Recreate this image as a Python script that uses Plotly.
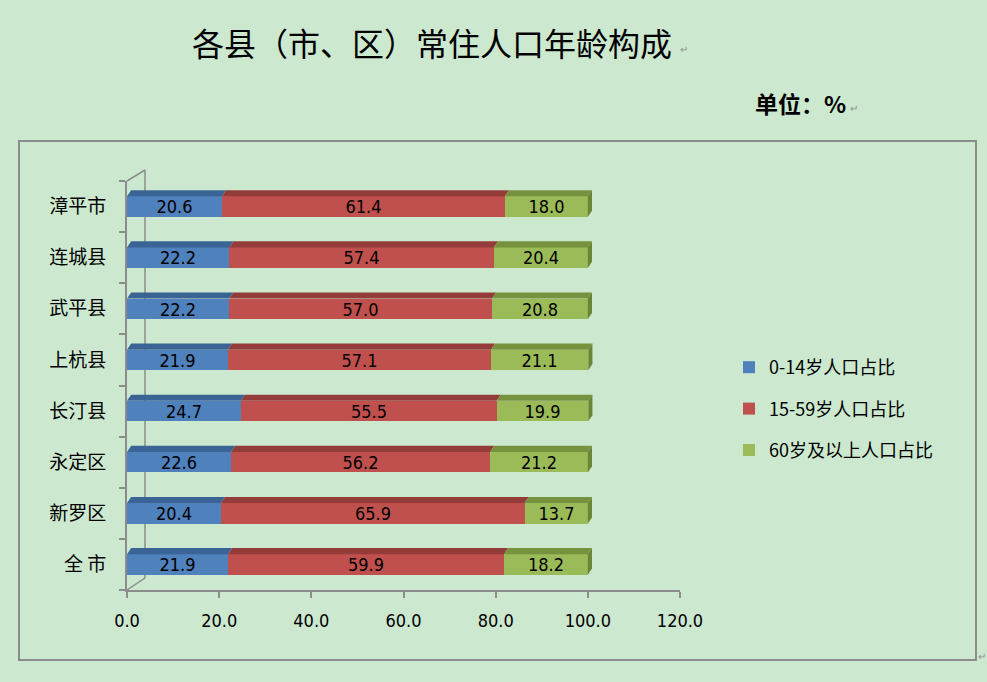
import plotly.graph_objects as go

# data (bottom -> top on the chart)
regions = ["全 市", "新罗区", "永定区", "长汀县", "上杭县", "武平县", "连城县", "漳平市"]
age_0_14 = [21.9, 20.4, 22.6, 24.7, 21.9, 22.2, 22.2, 20.6]
age_15_59 = [59.9, 65.9, 56.2, 55.5, 57.1, 57.0, 57.4, 61.4]
age_60_up = [18.2, 13.7, 21.2, 19.9, 21.1, 20.8, 20.4, 18.0]
series_names = ["0-14岁人口占比", "15-59岁人口占比", "60岁及以上人口占比"]
x_ticks = [0, 20, 40, 60, 80, 100, 120]

W, H = 987, 682
BG = "#CCE8CF"
GRID = "#8C8C8C"
front = ["#4F81BD", "#C0504D", "#9BBB59"]
top = ["#3A6496", "#943C3A", "#76923F"]
side_green = "#6B8536"
CJK = "Noto Sans CJK SC"
NUM = "Liberation Sans Narrow, DejaVu Sans Condensed, sans-serif"

# plot area in pixels
x0_px, x1_px = 127, 680
y_top_px, y_bot_px = 181, 590
bar_w = 0.4
dx, dy = 0.9, 0.12  # depth of the 3d faces, in axis units

def px(x):
    return x / W

def py(y):
    return 1 - y / H

pos = list(range(len(regions)))
fig = go.Figure()
for name, vals, col in zip(series_names, [age_0_14, age_15_59, age_60_up], front):
    fig.add_trace(go.Bar(
        y=pos, x=vals, orientation="h", name=name, legendgroup=name,
        marker=dict(color=col, line=dict(width=0)), width=bar_w,
        texttemplate="%{x:.1f}", textposition="inside", insidetextanchor="middle",
        constraintext="none",
        textfont=dict(family=NUM, size=18, color="black"),
        hoverinfo="skip",
    ))

# 3d top faces and right side of each stacked bar
shapes = []
for i in pos:
    starts = [0, age_0_14[i], age_0_14[i] + age_15_59[i]]
    ends = [age_0_14[i], age_0_14[i] + age_15_59[i], age_0_14[i] + age_15_59[i] + age_60_up[i]]
    yt = i + bar_w / 2
    for s, e, c in zip(starts, ends, top):
        shapes.append(dict(
            type="path", xref="x", yref="y", fillcolor=c, line=dict(width=0),
            path=f"M {s},{yt} L {s + dx},{yt + dy} L {e + dx},{yt + dy} L {e},{yt} Z"))
    e = ends[-1]
    yb = i - bar_w / 2
    shapes.append(dict(
        type="path", xref="x", yref="y", fillcolor=side_green, line=dict(width=0),
        path=f"M {e},{yb} L {e + dx},{yb + dy} L {e + dx},{yt + dy} L {e},{yt} Z"))

# outer frame and the left wall of the 3d chart
shapes.append(dict(type="rect", xref="paper", yref="paper",
                   x0=px(19), x1=px(976), y0=py(660), y1=py(141),
                   line=dict(color=GRID, width=2), layer="below"))
wall = [((x0_px, y_top_px), (x0_px + 18, y_top_px - 11)),
        ((x0_px + 18, y_top_px - 11), (x0_px + 18, y_bot_px - 12)),
        ((x0_px, y_bot_px), (x0_px + 18, y_bot_px - 12))]
for (a, b), (c, d) in wall:
    shapes.append(dict(type="line", xref="paper", yref="paper",
                       x0=px(a), y0=py(b), x1=px(c), y1=py(d),
                       line=dict(color=GRID, width=1.5), layer="below"))

annotations = [
    dict(text="各县（市、区）常住人口年龄构成", x=px(432), y=py(42),
         font=dict(family=CJK, size=32, color="black")),
    dict(text="<b>单位：%</b>", x=px(800), y=py(103),
         font=dict(family=CJK, size=23, color="black")),
]
for xx, yy in [(684, 48), (854, 108), (982, 655)]:
    annotations.append(dict(text="↵", x=px(xx), y=py(yy),
                            font=dict(family=CJK, size=10, color="#909090")))
for a in annotations:
    a.update(xref="paper", yref="paper", showarrow=False,
             xanchor="center", yanchor="middle")

fig.update_layout(
    width=W, height=H, autosize=False,
    margin=dict(l=0, r=0, t=0, b=0, pad=0),
    paper_bgcolor=BG, plot_bgcolor=BG,
    barmode="stack", bargap=0,
    showlegend=True,
    legend=dict(x=px(729), y=py(349), xanchor="left", yanchor="top",
                bgcolor="rgba(0,0,0,0)", tracegroupgap=15,
                font=dict(family=CJK, size=18, color="black")),
    shapes=shapes, annotations=annotations,
    xaxis=dict(domain=[px(x0_px), px(x1_px)], range=[0, 120], automargin=False,
               tickvals=x_ticks, tickformat=".1f",
               showgrid=False, zeroline=False,
               showline=True, linecolor=GRID, linewidth=2,
               ticks="outside", ticklen=6, tickcolor=GRID, tickwidth=2,
               ticklabelstandoff=7,
               tickfont=dict(family=NUM, size=18, color="black")),
    yaxis=dict(domain=[py(y_bot_px), py(y_top_px)], range=[-0.5, len(regions) - 0.5],
               automargin=False,
               tickvals=pos, ticktext=regions, ticks="",
               showgrid=False, zeroline=False,
               showline=True, linecolor=GRID, linewidth=2,
               ticklabelstandoff=15,
               minor=dict(tickvals=[i - 0.5 for i in range(len(regions) + 1)],
                          ticks="outside", ticklen=6, tickcolor=GRID, tickwidth=2,
                          showgrid=False),
               tickfont=dict(family=CJK, size=19, color="black")),
)

fig.write_html("out.html", config={"responsive": False, "displayModeBar": False},
               post_script="document.body.style.margin='0';")
